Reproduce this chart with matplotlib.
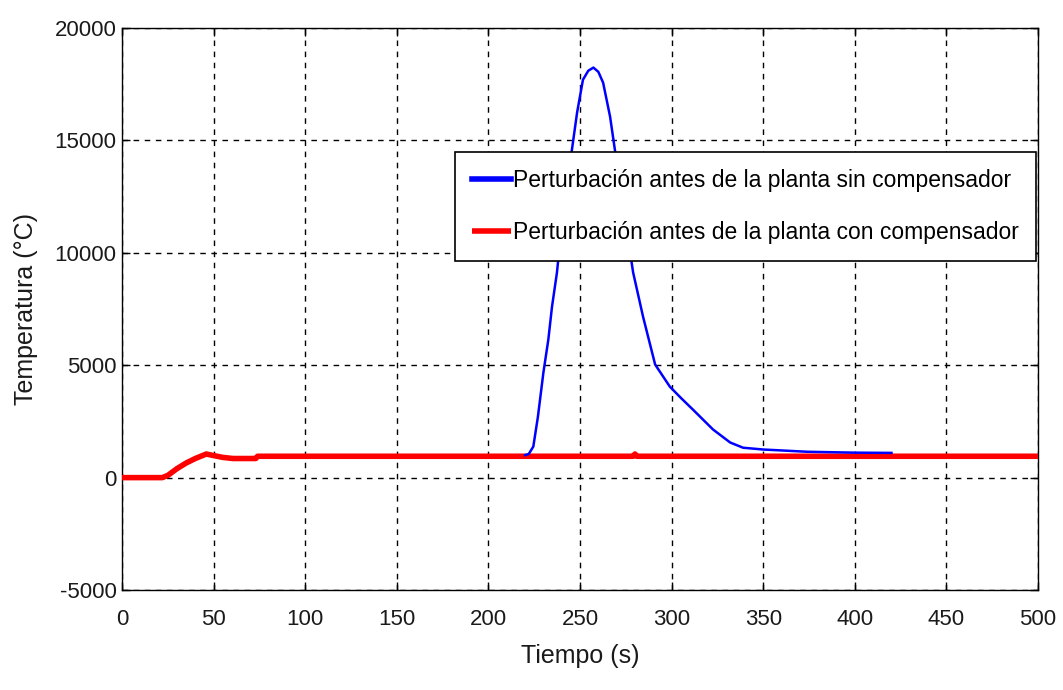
import matplotlib
matplotlib.use("Agg")
import matplotlib.pyplot as plt

plt.rcParams['font.family'] = ['Liberation Sans Narrow', 'Liberation Sans', 'DejaVu Sans']
plt.rcParams['axes.unicode_minus'] = False

# Response without compensator (time s, temperature °C)
t_sin = [220, 222, 224.5, 227, 230, 232.7, 234.7, 237.4, 241, 245.6, 248.4, 251.6,
         254.5, 257.3, 260, 262.6, 266.4, 269, 274, 279, 284.4, 291, 299, 305,
         311.7, 322.6, 332, 339, 350, 374, 400, 420]
y_sin = [1000, 1050, 1380, 2700, 4670, 6140, 7600, 9120, 12000, 14600, 16240, 17700,
         18100, 18240, 18050, 17570, 16060, 14600, 11800, 9120, 7160, 5030, 4050, 3550,
         3020, 2140, 1560, 1330, 1250, 1150, 1110, 1100]

# Response with compensator
t_con = [0, 22, 25, 30, 35, 40, 46, 50, 55, 60.5, 73, 74, 279, 280, 281, 500]
y_con = [0, 0, 100, 400, 650, 850, 1050, 980, 900, 850, 850, 950, 950, 1050, 950, 950]

x_ticks = list(range(0, 501, 50))
y_ticks = list(range(-5000, 20001, 5000))

text_color = '#1a1a1a'

fig = plt.figure(figsize=(10.63, 6.90), dpi=100)
ax = fig.add_axes([0.1148, 0.1449, 0.8617, 0.8145])

ax.plot(t_con, y_con, color='#ff0000', lw=4, solid_capstyle='butt', zorder=3,
        label='Perturbación antes de la planta con compensador')
ax.plot(t_sin, y_sin, color='#0000ff', lw=1.8, zorder=4,
        label='Perturbación antes de la planta sin compensador')

ax.set_xlim(0, 500)
ax.set_ylim(-5000, 20000)
ax.set_xticks(x_ticks)
ax.set_yticks(y_ticks)
ax.tick_params(direction='in', top=True, right=True, length=6, width=1,
               labelsize=16, labelcolor=text_color)
ax.tick_params(axis='y', pad=4)
ax.tick_params(axis='x', pad=14)
ax.grid(True, color='black', linestyle=(0, (4, 4)), linewidth=1)
for s in ax.spines.values():
    s.set_linewidth(1)

ax.set_xlabel('Tiempo (s)', fontsize=18, labelpad=10, color=text_color)
ax.set_ylabel('Temperatura (°C)', fontsize=18, labelpad=12, color=text_color)

handles, labels = ax.get_legend_handles_labels()
leg = ax.legend(handles[::-1], labels[::-1], loc='upper left',
                bbox_to_anchor=(0.3635, 0.779), fontsize=16.5, frameon=True,
                fancybox=False, edgecolor='black', framealpha=1,
                handlelength=1.7, handletextpad=0.1, borderpad=0.75,
                labelspacing=1.25, borderaxespad=0)
leg.get_frame().set_linewidth(1.2)
for line in leg.get_lines():
    line.set_linewidth(4)

fig.savefig('out.png', dpi=100)
